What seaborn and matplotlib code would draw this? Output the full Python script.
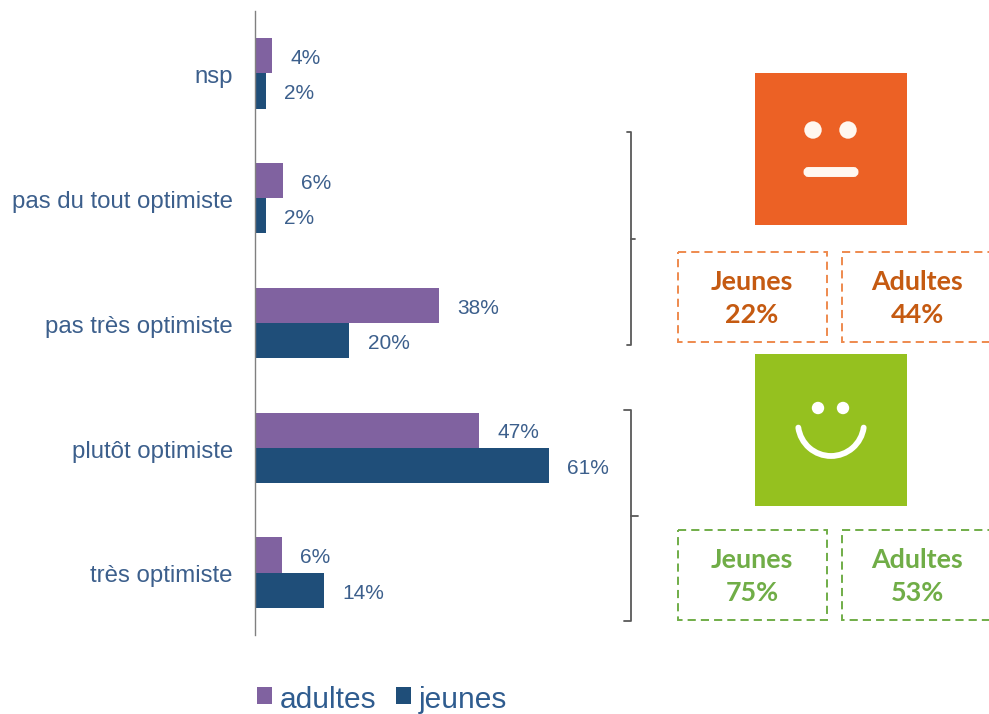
import matplotlib
matplotlib.use("Agg")
import matplotlib.pyplot as plt
from matplotlib.patches import Rectangle, Circle, Arc, FancyBboxPatch
from matplotlib.transforms import ScaledTranslation
import pandas as pd
import seaborn as sns

categories = ["nsp", "pas du tout optimiste", "pas très optimiste", "plutôt optimiste", "très optimiste"]
adultes = [3.6, 5.8, 38.2, 46.5, 5.6]
jeunes = [2.3, 2.3, 19.6, 61, 14.3]
adultes_labels = ["4%", "6%", "38%", "47%", "6%"]
jeunes_labels = ["2%", "2%", "20%", "61%", "14%"]
series_names = ["adultes", "jeunes"]
series_colors = ["#8062A0", "#1F4E79"]
orange_box = ["Jeunes\n22%", "Adultes\n44%"]
green_box = ["Jeunes\n75%", "Adultes\n53%"]

W, H = 989, 714
TXT = "#3C5F8C"
sns.set_theme(style="white")
plt.rcParams["font.family"] = ["Liberation Sans", "DejaVu Sans"]

fig = plt.figure(figsize=(W / 100, H / 100), dpi=100)
L, R, T, B = 255, 640, 11, 635
ax = fig.add_axes([L / W, 1 - B / H, (R - L) / W, (B - T) / H])

df = pd.DataFrame({
    "categorie": categories * 2,
    "serie": [series_names[0]] * 5 + [series_names[1]] * 5,
    "valeur": adultes + jeunes,
})
sns.barplot(data=df, y="categorie", x="valeur", hue="serie", order=categories,
            hue_order=series_names, palette=series_colors, width=0.565, gap=0,
            saturation=1, ax=ax, linewidth=0)
ax.set_xlim(0, (R - L) / 4.82)
ax.set_ylim(4.5, -0.5)
ax.set_xlabel("")
ax.set_ylabel("")
ax.set_xticks([])
ax.tick_params(axis="y", length=0, pad=16, labelsize=17.3, labelcolor=TXT)
for lab in ax.get_yticklabels():
    lab.set_transform(lab.get_transform() + ScaledTranslation(0, -1.3 / 100, fig.dpi_scale_trans))
for s in ["top", "right", "bottom"]:
    ax.spines[s].set_visible(False)
ax.spines["left"].set_color("#808080")
ax.spines["left"].set_linewidth(1.0)

for cont, labs in zip(ax.containers, [adultes_labels, jeunes_labels]):
    for t in ax.bar_label(cont, labels=labs, padding=13, fontsize=15, color=TXT):
        xo, yo = t.xyann
        t.xyann = (xo, yo - 2.0)

leg = ax.legend(loc="lower left", bbox_to_anchor=(251.5 / W, 1 - 720 / H), bbox_transform=fig.transFigure,
                ncols=2, frameon=False, fontsize=21.5, labelcolor="#2F5C8F",
                handlelength=0.5, handleheight=0.5, handletextpad=0.25, columnspacing=0.65,
                borderpad=0.2, borderaxespad=0)
for h in leg.legend_handles:
    h.set_y(h.get_y() + 1.5)

# Overlay in image pixel coordinates for the side decorations
ov = fig.add_axes([0, 0, 1, 1])
ov.set_xlim(0, W)
ov.set_ylim(H, 0)
ov.axis("off")
ov.patch.set_alpha(0)

BR = "#595959"
def bracket(x, y0, y1, ymid, tip0, tipm):
    ov.plot([tip0, x, x, tip0], [y0, y0, y1, y1], color=BR, lw=1.3, solid_joinstyle="round")
    ov.plot([x, tipm], [ymid, ymid], color=BR, lw=1.3)

bracket(631, 132, 345, 239, 627, 635)
bracket(631, 410, 621, 516, 624, 638)

def box(x0, x1, y0, y1, col):
    ov.add_patch(Rectangle((x0, y0), x1 - x0, y1 - y0, fill=False, ec=col, lw=1.4,
                           ls=(0, (4.2, 2.6)), clip_on=True))

OR_L, OR_T = "#EE8A4E", "#C55A11"
GR_L, GR_T = "#70AD47", "#70AD47"
box(678, 827, 252, 342, OR_L)
box(842, 1000, 252, 342, OR_L)
box(678, 827, 530, 620, GR_L)
box(842, 1000, 530, 620, GR_L)

for (x, y, s, c) in [(752, 298.5, orange_box[0], OR_T), (917, 298.5, orange_box[1], OR_T),
                     (752, 576.5, green_box[0], GR_T), (917, 576.5, green_box[1], GR_T)]:
    ov.text(x, y, s, ha="center", va="center", fontsize=19.4, fontweight="bold", color=c,
            family=["Lato", "DejaVu Sans"], linespacing=1.46)

# Neutral face
ov.add_patch(Rectangle((755, 73), 152, 152, fc="#EC6125", ec="none"))
for cx in (813, 848):
    ov.add_patch(Circle((cx, 130), 8.7, fc="#FFF8F0", ec="none"))
ov.add_patch(FancyBboxPatch((807, 170.5), 48, 3, boxstyle="round,pad=0,rounding_size=1.5",
                            fc="#FFF8F0", ec="#FFF8F0", lw=5))

# Happy face
ov.add_patch(Rectangle((755, 354), 152, 152, fc="#95C11F", ec="none"))
for cx in (818, 843):
    ov.add_patch(Circle((cx, 408), 6.2, fc="#FFFFFF", ec="none"))
ov.add_patch(Arc((831, 423), 66, 66, angle=0, theta1=8, theta2=172, ec="#FFFFFF", lw=4.2,
                 capstyle="round"))

fig.savefig("out.png", dpi=100, facecolor="white")
